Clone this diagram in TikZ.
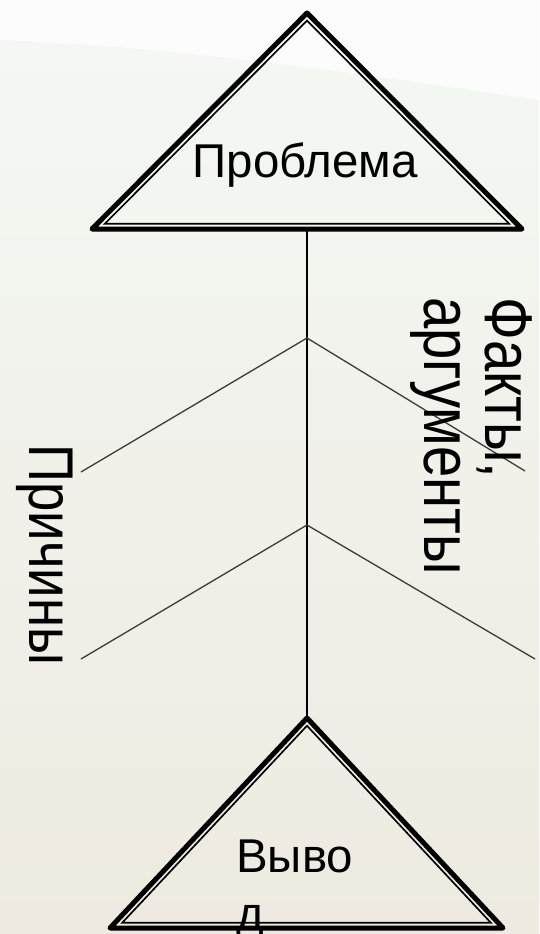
\documentclass[tikz,border=0pt]{standalone}
\usepackage{fontspec}
\setmainfont{Liberation Sans}
\usetikzlibrary{calc}
\definecolor{bgtop}{HTML}{F4F8F4}
\definecolor{bgmid}{HTML}{F1F0E7}
\definecolor{bgbot}{HTML}{EEEAE0}
\definecolor{bonegray}{HTML}{3C3C3C}

\tikzset{
  outertri/.style={line width=2.85pt, line join=round},
  innertri/.style={line width=0.95pt},
  bone/.style={bonegray, line width=0.75pt},
  spine/.style={black, line width=0.75pt},
  maintext/.style={inner sep=0pt, font=\fontsize{27}{33}\selectfont},
  sidetext/.style={inner sep=0pt, rotate=-90, yscale=1.2},
}

\begin{document}
\begin{tikzpicture}[x=0.02cm, y=-0.02cm]
  % background
  \useasboundingbox (0,0) rectangle (539,934);
  \shade[top color=bgtop, middle color=bgmid, bottom color=bgbot] (0,0) rectangle (539,934);
  \fill[white, opacity=0.7] (0,0) -- (0,40) .. controls (200,48) and (400,80) .. (539,100) -- (539,0) -- cycle;

  % problem triangle
  \coordinate (pA) at (307,13);
  \coordinate (pL) at (92,229);
  \coordinate (pR) at (522,229);
  \coordinate (pI) at (307,140);
  \coordinate (ptop) at (307,229);
  \draw[outertri] (pA) -- (pL) -- (pR) -- cycle;
  \draw[innertri] ($(pI)!0.94!(pA)$) -- ($(pI)!0.94!(pL)$) -- ($(pI)!0.94!(pR)$) -- cycle;
  \node[maintext, anchor=base] (problem) at (305,177) {Проблема};

  % conclusion triangle
  \coordinate (cA) at (307,718);
  \coordinate (cL) at (110,928);
  \coordinate (cR) at (503,928);
  \coordinate (cI) at (307,843);
  \draw[outertri] (cA) -- (cL) -- (cR) -- cycle;
  \draw[innertri] ($(cI)!0.938!(cA)$) -- ($(cI)!0.938!(cL)$) -- ($(cI)!0.938!(cR)$) -- cycle;
  \node[maintext, anchor=north west, align=left] (conclusion) at (236,840) {Выво\\д};

  % spine and bones
  \coordinate (j1) at (307,338);
  \coordinate (j2) at (307,525);
  \coordinate (l1) at (81,472);
  \coordinate (r1) at (525,471);
  \coordinate (l2) at (81,659);
  \coordinate (r2) at (535,659);
  \draw[spine] (ptop) -- (cA);
  \draw[bone] (l1) -- (j1) -- (r1);
  \draw[bone] (l2) -- (j2) -- (r2);

  \node[sidetext, anchor=center, font=\fontsize{30}{30}\selectfont] (causes) at (45,555) {Причины};
  \node[sidetext, anchor=north west, align=left, font=\fontsize{32}{29}\selectfont] (facts) at (533,297) {Факты,\\аргументы};
\end{tikzpicture}
\end{document}
